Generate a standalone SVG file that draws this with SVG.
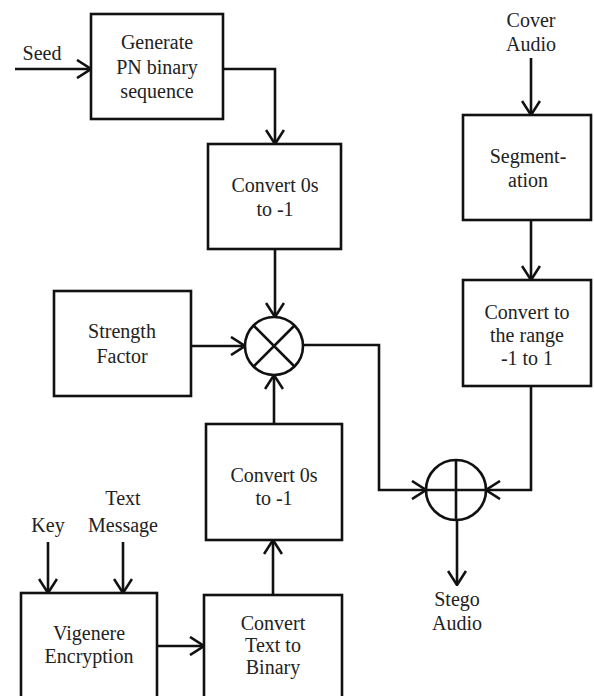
<svg xmlns="http://www.w3.org/2000/svg" width="594" height="696" viewBox="0 0 594 696" font-family="'Liberation Serif', 'Times New Roman', 'DejaVu Serif', serif">
  <defs>
    <marker id="arr" viewBox="0 0 16 20" refX="15" refY="10" markerWidth="16" markerHeight="20" markerUnits="userSpaceOnUse" orient="auto">
      <path d="M1,1 L15,10 L1,19" fill="none" stroke="#111" stroke-width="2.6"/>
    </marker>
  </defs>
  <style>
    .box { fill: #fff; stroke: #111; stroke-width: 2.6; }
    .op { fill: #fff; stroke: #111; stroke-width: 2.6; }
    .sym { stroke: #111; stroke-width: 2.6; fill: none; }
    #connectors path { fill: none; stroke: #111; stroke-width: 2.6; marker-end: url(#arr); }
    text { font-family: 'Liberation Serif', 'Times New Roman', 'DejaVu Serif', serif; font-size: 20px; fill: #222; text-anchor: middle; }
  </style>
  <rect width="594" height="696" fill="#fff"/>

  <g id="connectors">
    <path d="M15,69 H91"/>
    <path d="M223,69 H275 V144"/>
    <path d="M275,249 V317"/>
    <path d="M191,346 H245"/>
    <path d="M274,424 V375"/>
    <path d="M273,595 V540"/>
    <path d="M157,646 H204"/>
    <path d="M48,542 V593"/>
    <path d="M123,542 V593"/>
    <path d="M303,345 H379 V490 H426"/>
    <path d="M531,386 V490 H486"/>
    <path d="M531,58 V115"/>
    <path d="M531,220 V280"/>
    <path d="M457,520 V585"/>
  </g>

  <g id="seed"><text x="42" y="60">Seed</text></g>

  <g id="pn-generator">
    <rect class="box" x="91" y="14" width="132" height="105"/>
    <text x="157" y="49">Generate</text>
    <text x="157" y="74">PN binary</text>
    <text x="157" y="98">sequence</text>
  </g>

  <g id="convert-pn">
    <rect class="box" x="208" y="144" width="133" height="105"/>
    <text x="275" y="192">Convert 0s</text>
    <text x="275" y="216">to -1</text>
  </g>

  <g id="strength">
    <rect class="box" x="54" y="291" width="137" height="105"/>
    <text x="122" y="338">Strength</text>
    <text x="122" y="363">Factor</text>
  </g>

  <g id="multiplier">
    <circle class="op" cx="274" cy="346" r="29"/>
    <path class="sym" d="M253.5,325.5 L294.5,366.5 M294.5,325.5 L253.5,366.5"/>
  </g>

  <g id="convert-msg">
    <rect class="box" x="206" y="424" width="136" height="116"/>
    <text x="274" y="482">Convert 0s</text>
    <text x="274" y="505">to -1</text>
  </g>

  <g id="text-to-binary">
    <rect class="box" x="204" y="595" width="138" height="110"/>
    <text x="273" y="630">Convert</text>
    <text x="273" y="652">Text to</text>
    <text x="273" y="674">Binary</text>
  </g>

  <g id="vigenere">
    <rect class="box" x="21" y="593" width="136" height="112"/>
    <text x="89" y="640">Vigenere</text>
    <text x="89" y="663">Encryption</text>
  </g>

  <g id="key"><text x="48" y="532">Key</text></g>

  <g id="text-message">
    <text x="123" y="505">Text</text>
    <text x="123" y="532">Message</text>
  </g>

  <g id="cover-audio">
    <text x="531" y="27">Cover</text>
    <text x="531" y="51">Audio</text>
  </g>

  <g id="segmentation">
    <rect class="box" x="463" y="115" width="128" height="105"/>
    <text x="528" y="163">Segment-</text>
    <text x="528" y="187">ation</text>
  </g>

  <g id="range">
    <rect class="box" x="463" y="280" width="128" height="106"/>
    <text x="527" y="319">Convert to</text>
    <text x="527" y="342">the range</text>
    <text x="527" y="365">-1 to 1</text>
  </g>

  <g id="adder">
    <circle class="op" cx="456" cy="490" r="30"/>
    <path class="sym" d="M426,490 H486 M456,460 V520"/>
  </g>

  <g id="stego-audio">
    <text x="457" y="606">Stego</text>
    <text x="457" y="630">Audio</text>
  </g>
</svg>
